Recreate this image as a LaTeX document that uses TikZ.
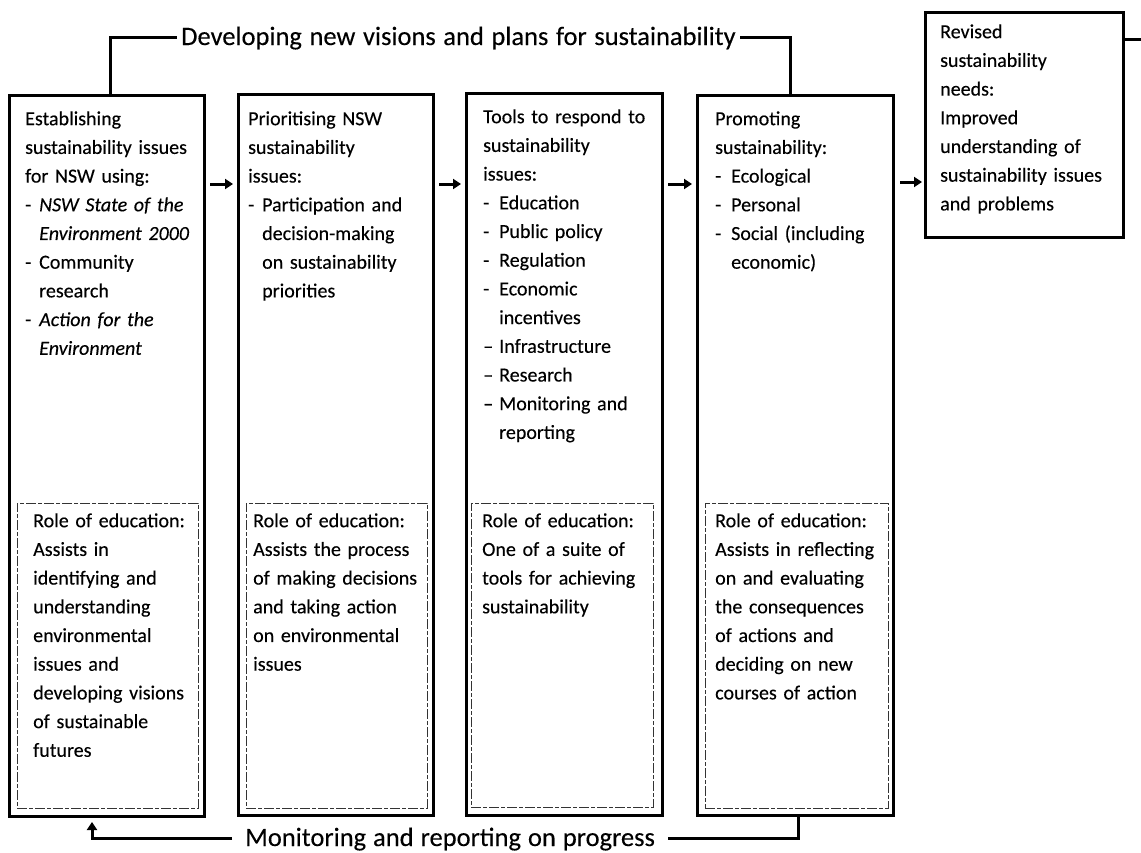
\documentclass[tikz,border=0pt]{standalone}
\usepackage{fontspec}
\setmainfont{Carlito}[UprightFeatures={FakeBold=0.25},ItalicFeatures={FakeBold=0.25}]
\usetikzlibrary{arrows.meta}

% list markers and hanging indent for continuation lines
\newcommand{\hyitem}[1][14pt]{\makebox[#1][l]{-}}
\newcommand{\enitem}[1][14pt]{\makebox[#1][l]{--}}
\newcommand{\contind}[1][14pt]{\hspace*{#1}}

\begin{document}
\begin{tikzpicture}[x=1pt,y=-1pt,
  stagebox/.style={draw, line width=3pt, inner sep=0pt, outer sep=0pt, anchor=north west},
  rolebox/.style={draw, black!80, line width=0.8pt, dash pattern=on 10pt off 2pt on 4pt off 2pt,
                  inner sep=0pt, outer sep=0pt, anchor=north west},
  body/.style={anchor=north west, inner sep=0pt, align=left, text width=185pt,
               font=\fontsize{20}{28.7}\selectfont},
  banner/.style={inner ysep=0pt, font=\fontsize{26.5}{30}\selectfont},
  conn/.style={line width=3pt},
  flow/.style={line width=3pt, -{Triangle[length=8pt,width=10pt]}}
]
\useasboundingbox (0,0) rectangle (1141,852);

% helper rows and columns
\coordinate (toprow) at (0,37);
\coordinate (botrow) at (0,838);
\coordinate (flowrow) at (0,184);
\coordinate (flowrowR) at (0,182);
\coordinate (outrow) at (0,39);
\coordinate (colA) at (110,0);
\coordinate (colB) at (790,0);
\coordinate (colC) at (798,0);
\coordinate (colD) at (92,0);

% stage boxes
\node[stagebox, minimum width=195pt, minimum height=721pt] (b1) at (9,95) {};
\node[stagebox, minimum width=195pt, minimum height=721pt] (b2) at (238,94) {};
\node[stagebox, minimum width=196pt, minimum height=722pt] (b3) at (466,93) {};
\node[stagebox, minimum width=196pt, minimum height=720pt] (b4) at (697,95) {};
\node[stagebox, minimum width=198pt, minimum height=225pt] (rv) at (925,12) {};

% role-of-education panels
\node[rolebox, minimum width=181pt, minimum height=305pt] (r1) at (17,503) {};
\node[rolebox, minimum width=181pt, minimum height=305pt] (r2) at (246,503) {};
\node[rolebox, minimum width=182pt, minimum height=304pt] (r3) at (471,503) {};
\node[rolebox, minimum width=183pt, minimum height=305pt] (r4) at (705,503) {};

% stage texts
\node[body] (t1) at (25,104.9) {\strut Establishing\\
sustainability issues\\
for NSW using:\\
\hyitem\textit{NSW State of the}\\
\contind\textit{Environment 2000}\\
\hyitem Community\\
\contind research\\
\hyitem\textit{Action for the}\\
\contind\textit{Environment}};

\node[body] (t2) at (248,104.9) {\strut Prioritising NSW\\
sustainability\\
issues:\\
\hyitem Participation and\\
\contind decision-making\\
\contind on sustainability\\
\contind priorities};

\node[body] (t3) at (483,102.9) {\strut Tools to respond to\\
sustainability\\
issues:\\
\hyitem[16pt]Education\\
\hyitem[16pt]Public policy\\
\hyitem[16pt]Regulation\\
\hyitem[16pt]Economic\\
\contind[16pt]incentives\\
\enitem[16pt]Infrastructure\\
\enitem[16pt]Research\\
\enitem[16pt]Monitoring and\\
\contind[16pt]reporting};

\node[body] (t4) at (715,104.9) {\strut Promoting\\
sustainability:\\
\hyitem[16pt]Ecological\\
\hyitem[16pt]Personal\\
\hyitem[16pt]Social (including\\
\contind[16pt]economic)};

\node[body] (tr) at (940,17.9) {\strut Revised\\
sustainability\\
needs:\\
Improved\\
understanding of\\
sustainability issues\\
and problems};

% role texts
\node[body] (e1) at (33,506.9) {\strut Role of education:\\
Assists in\\
identifying and\\
understanding\\
environmental\\
issues and\\
developing visions\\
of sustainable\\
futures};

\node[body] (e2) at (253,506.9) {\strut Role of education:\\
Assists the process\\
of making decisions\\
and taking action\\
on environmental\\
issues};

\node[body] (e3) at (482,506.9) {\strut Role of education:\\
One of a suite of\\
tools for achieving\\
sustainability};

\node[body] (e4) at (715,506.9) {\strut Role of education:\\
Assists in reflecting\\
on and evaluating\\
the consequences\\
of actions and\\
deciding on new\\
courses of action};

% banners
\node[banner, inner xsep=4pt, anchor=base west] (dev) at (177,45)
  {\spaceskip=7.6pt Developing new visions and plans for sustainability};
\node[banner, inner xsep=13pt, anchor=base west] (mon) at (232,846)
  {\spaceskip=7pt Monitoring and reporting on progress};

% forward flow between stages
\draw[flow, shorten <=6pt, shorten >=5pt] (b1.east |- flowrow) -- (b2.west |- flowrow);
\draw[flow, shorten <=6pt, shorten >=5pt] (b2.east |- flowrow) -- (b3.west |- flowrow);
\draw[flow, shorten <=6pt, shorten >=5pt] (b3.east |- flowrow) -- (b4.west |- flowrow);
\draw[flow, shorten <=7pt, shorten >=3pt] (b4.east |- flowrowR) -- (rv.west |- flowrowR);
\coordinate (outend) at (1149,39);
\draw[flow] (rv.east |- outrow) -- (outend);

% feedback loop over the top
\draw[conn] (b1.north -| colA) |- (dev.west |- toprow);
\draw[conn] (dev.east |- toprow) -| (b4.north -| colB);

% monitoring loop along the bottom
\draw[conn] (b4.south -| colC) |- (mon.east |- botrow);
\draw[flow, shorten >=6pt] (mon.west |- botrow) -| (b1.south -| colD);
\end{tikzpicture}
\end{document}
